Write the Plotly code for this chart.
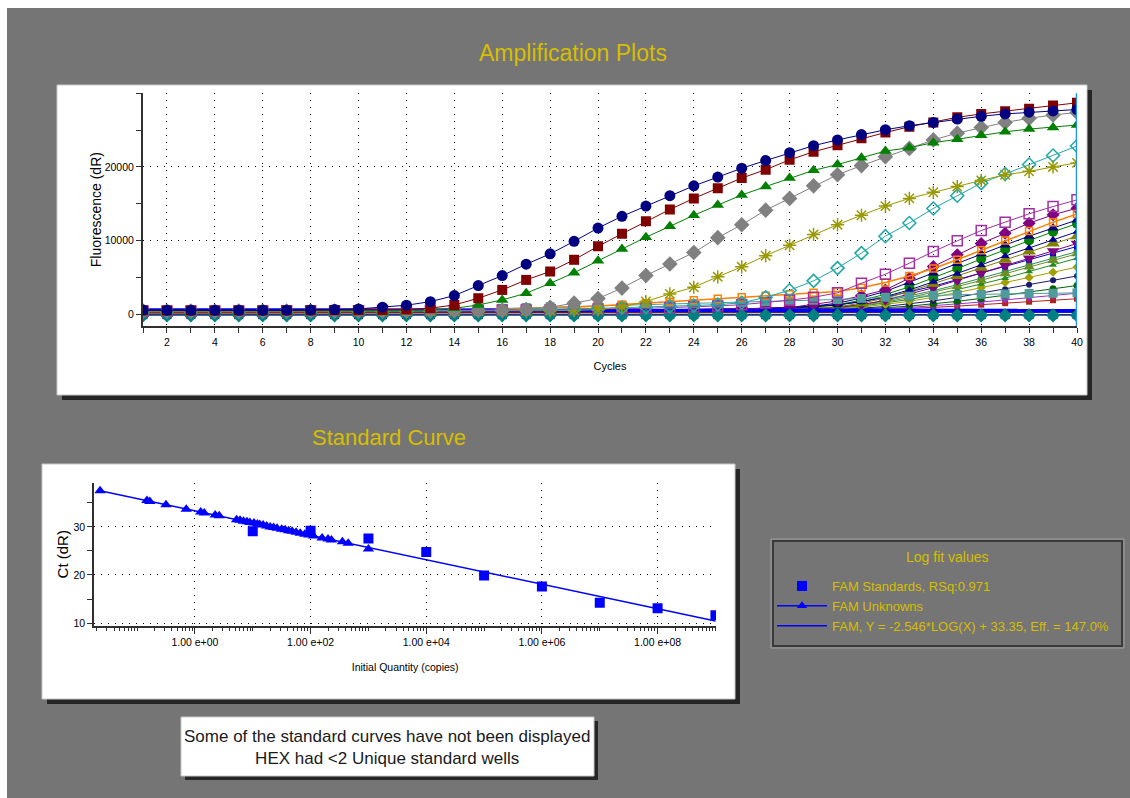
import numpy as np
import plotly.graph_objects as go

W, H = 1130, 798

# ---------------- amplification data (FAM, dR) ----------------
cycles = list(range(1, 41))

amp_navy = [560, 540, 530, 530, 540, 540, 550, 560, 640, 720,
            950, 1220, 1710, 2530, 3890, 5250, 6790, 8200, 9900, 11700,
            13300, 14680, 16100, 17430, 18620, 19820, 20870, 21930, 22890, 23670,
            24400, 25050, 25600, 26050, 26510, 26880, 27200, 27430, 27610, 27800]
amp_maroon = [520, 500, 500, 490, 500, 510, 510, 520, 530, 540,
              560, 650, 815, 1260, 2170, 3300, 4660, 5800, 7390, 9220,
              10920, 12610, 14220, 15730, 17110, 18490, 19630, 20960, 22060, 22940,
              23900, 24680, 25460, 26050, 26740, 27200, 27570, 27890, 28350, 28710]
amp_green = [470, 460, 450, 450, 460, 460, 470, 470, 480, 480,
             490, 500, 550, 800, 1260, 1940, 2850, 4190, 5640, 7250,
             8850, 10460, 11930, 13440, 14820, 16190, 17340, 18490, 19540, 20320,
             21240, 22160, 22610, 23300, 23760, 24310, 24770, 25140, 25370, 25690]
amp_gray = [430, 420, 420, 410, 420, 430, 430, 440, 440, 450,
            450, 450, 460, 470, 480, 520, 640, 950, 1500, 2130,
            3550, 5260, 6810, 8380, 10400, 12150, 14130, 15730, 17430, 18940,
            20180, 21380, 22520, 23670, 24590, 25370, 26050, 26600, 27060, 27400]
amp_olive = [400, 400, 390, 390, 400, 400, 410, 410, 420, 420,
             420, 430, 430, 440, 440, 450, 460, 480, 520, 620,
             980, 1730, 2760, 3660, 5080, 6440, 7950, 9360, 10830, 12160,
             13440, 14680, 15730, 16560, 17340, 18170, 18940, 19400, 20000, 20550]
amp_teal = [380, 380, 370, 380, 380, 390, 390, 400, 400, 410,
            420, 430, 450, 470, 500, 540, 590, 650, 720, 800,
            880, 970, 1060, 1170, 1300, 1550, 2300, 3250, 4530, 6260,
            8300, 10600, 12390, 14360, 16100, 17800, 19040, 20320, 21560, 22840]
amp_violet = [450, 450, 440, 440, 450, 450, 460, 460, 470, 480,
              490, 500, 510, 520, 540, 560, 580, 610, 650, 700,
              750, 800, 880, 1000, 1120, 1300, 1550, 1900, 2300, 2900,
              4210, 5430, 6930, 8510, 9960, 11360, 12500, 13630, 14620, 15530]
amp_orange = [600, 600, 590, 590, 600, 600, 610, 610, 620, 620,
              630, 640, 650, 660, 680, 700, 750, 820, 950, 1100,
              1300, 1500, 1700, 1900, 2100, 2300, 2500, 2700, 2900, 3100,
              3600, 4300, 5200, 6200, 7400, 8700, 10000, 11300, 12500, 13600]
amp_cadet = [500, 500, 490, 490, 500, 500, 510, 510, 520, 520,
             520, 530, 550, 600, 700, 800, 900, 1000, 1080, 1150,
             1220, 1300, 1380, 1450, 1520, 1600, 1700, 1800, 1900, 2000,
             2150, 2300, 2450, 2550, 2650, 2700, 2750, 2800, 2850, 2900]
amp_late1 = [420, 410, 410, 400, 410, 420, 420, 430, 430, 440,
             440, 450, 450, 460, 460, 470, 480, 490, 500, 520,
             540, 560, 590, 620, 660, 710, 780, 900, 1300, 1800,
             2500, 3300, 4900, 6480, 8060, 9620, 10980, 12360, 13500, 14400]
amp_late2 = [380, 380, 370, 370, 380, 380, 390, 390, 400, 400,
             410, 410, 420, 420, 430, 440, 450, 460, 470, 490,
             510, 530, 560, 590, 630, 680, 760, 880, 1100, 1500,
             2200, 3100, 4300, 5600, 6900, 8200, 9400, 10600, 11700, 12800]
amp_late3 = [360, 350, 350, 350, 360, 360, 370, 370, 380, 380,
             390, 390, 400, 400, 410, 420, 430, 440, 450, 470,
             490, 510, 530, 560, 600, 650, 720, 830, 1000, 1300,
             1900, 2700, 3700, 4900, 6200, 7500, 8800, 10000, 11200, 12300]
amp_late4 = [340, 340, 330, 330, 340, 340, 350, 350, 360, 360,
             370, 370, 380, 380, 390, 400, 410, 420, 430, 450,
             460, 480, 500, 530, 560, 600, 660, 740, 850, 1000,
             1500, 2200, 3100, 4100, 5200, 6300, 7400, 8500, 9600, 10600]
amp_late5 = [320, 320, 310, 310, 320, 320, 330, 330, 340, 340,
             350, 350, 360, 360, 370, 380, 390, 400, 410, 420,
             430, 450, 470, 490, 520, 550, 590, 650, 750, 900,
             1300, 1900, 2700, 3600, 4600, 5600, 6600, 7600, 8600, 9600]
amp_late6 = [450, 450, 440, 440, 450, 450, 460, 460, 470, 470,
             480, 480, 490, 490, 500, 510, 520, 530, 540, 560,
             580, 600, 630, 660, 700, 750, 820, 920, 1080, 1300,
             1700, 2300, 3000, 3800, 4700, 5600, 6500, 7400, 8300, 9200]
amp_late7 = [300, 300, 290, 290, 300, 300, 310, 310, 320, 320,
             330, 330, 340, 340, 350, 360, 370, 380, 390, 400,
             410, 430, 450, 470, 500, 530, 570, 630, 720, 850,
             1100, 1500, 2000, 2600, 3300, 4100, 4900, 5800, 6700, 7600]
amp_late8 = [280, 280, 270, 270, 280, 280, 290, 290, 300, 300,
             310, 310, 320, 320, 330, 340, 350, 360, 370, 380,
             390, 400, 420, 440, 460, 490, 520, 570, 640, 740,
             950, 1300, 1750, 2300, 2900, 3600, 4300, 5000, 5700, 6400]
amp_late9 = [260, 260, 250, 250, 260, 260, 270, 270, 280, 280,
             290, 290, 300, 300, 310, 320, 330, 340, 350, 360,
             370, 380, 390, 410, 430, 450, 480, 520, 580, 660,
             820, 1050, 1400, 1800, 2300, 2850, 3400, 4000, 4600, 5200]
amp_late10 = [240, 240, 230, 230, 240, 240, 250, 250, 260, 260,
              270, 270, 280, 280, 290, 300, 310, 320, 330, 340,
              350, 360, 370, 380, 400, 420, 440, 470, 520, 580,
              700, 880, 1100, 1400, 1750, 2150, 2550, 3000, 3450, 3900]
amp_late11 = [220, 220, 210, 210, 220, 220, 230, 230, 240, 240,
              250, 250, 260, 260, 270, 280, 290, 300, 310, 320,
              330, 340, 350, 360, 370, 390, 410, 440, 480, 530,
              620, 750, 920, 1130, 1380, 1650, 1950, 2250, 2550, 2850]
amp_late12 = [200, 200, 190, 190, 200, 200, 210, 210, 220, 220,
              230, 230, 240, 240, 250, 260, 270, 280, 290, 300,
              310, 320, 330, 340, 350, 360, 380, 400, 430, 470,
              540, 640, 770, 930, 1100, 1300, 1500, 1700, 1900, 2100]
amp_late13 = [350, 350, 340, 340, 350, 350, 360, 360, 370, 370,
              380, 380, 390, 390, 400, 410, 420, 430, 440, 450,
              460, 470, 490, 510, 530, 560, 600, 660, 760, 900,
              1200, 1650, 2250, 2950, 3750, 4600, 5500, 6400, 7300, 8200]
amp_late14 = [400, 400, 390, 390, 400, 400, 410, 410, 420, 420,
              430, 430, 440, 440, 450, 460, 470, 480, 490, 510,
              530, 550, 580, 610, 650, 700, 770, 870, 1020, 1250,
              1700, 2400, 3300, 4400, 5500, 6700, 7900, 9000, 10100, 11200]
amp_late15 = [330, 330, 320, 320, 330, 330, 340, 340, 350, 350,
              360, 360, 370, 370, 380, 390, 400, 410, 420, 440,
              450, 470, 490, 510, 540, 580, 630, 700, 800, 960,
              1300, 1800, 2450, 3200, 4000, 4900, 5800, 6700, 7600, 8500]
amp_flat_blue = [540, 540, 530, 530, 530, 530, 520, 520, 520, 520,
                 520, 520, 510, 510, 510, 510, 510, 510, 500, 500,
                 500, 500, 500, 500, 500, 500, 490, 490, 490, 490,
                 490, 490, 490, 490, 490, 480, 480, 480, 480, 480]
amp_flat_teal = [-150, -150, -150, -140, -150, -150, -150, -140, -150, -150,
                 -150, -150, -140, -150, -150, -150, -150, -140, -150, -150,
                 -150, -150, -150, -140, -150, -150, -150, -150, -140, -150,
                 -150, -150, -150, -150, -140, -150, -150, -150, -150, -150]
amp_flat_navy = [-60, -60, -50, -60, -60, -60, -50, -60, -60, -60,
                 -60, -50, -60, -60, -60, -60, -50, -60, -60, -60,
                 -60, -60, -50, -60, -60, -60, -60, -50, -60, -60,
                 -60, -60, -60, -50, -60, -60, -60, -60, -60, -50]
amp_flat_purple = [-90, -90, -80, -90, -90, -90, -90, -80, -90, -90,
                   -90, -90, -80, -90, -90, -90, -90, -90, -80, -90,
                   -90, -90, -90, -80, -90, -90, -90, -90, -90, -80,
                   -90, -90, -90, -90, -80, -90, -90, -90, -90, -90]
amp_flat_green = [220, 220, 210, 210, 220, 220, 220, 210, 220, 220,
                  220, 230, 220, 220, 230, 230, 230, 230, 240, 240,
                  240, 240, 250, 250, 250, 260, 260, 260, 270, 270,
                  270, 280, 280, 290, 290, 300, 300, 310, 310, 320]
amp_flat_maroon = [160, 160, 150, 150, 160, 160, 160, 150, 160, 160,
                   160, 170, 160, 160, 170, 170, 170, 170, 180, 180,
                   180, 180, 190, 190, 190, 200, 200, 200, 210, 210,
                   210, 220, 220, 230, 230, 240, 240, 250, 250, 260]
amp_flat_orange = [90, 90, 80, 80, 90, 90, 90, 80, 90, 90,
                   90, 100, 90, 90, 100, 100, 100, 100, 110, 110,
                   110, 120, 120, 130, 130, 140, 140, 150, 160, 170,
                   180, 190, 200, 210, 220, 240, 250, 260, 280, 300]

amp_ticks = [0, 10000, 20000]

# ---------------- standard curve data ----------------
std_quantity = [10, 100, 1000, 1e4, 1e5, 1e6, 1e7, 1e8, 1e9]
std_ct = [29.1, 29.2, 27.6, 24.8, 19.9, 17.6, 14.2, 13.1, 11.6]

unk_quantity = [0.0229, 0.148, 0.166, 0.316, 0.708, 1.26, 1.45, 2.24, 2.63, 5.25,
                6.03, 6.92, 7.94, 8.91, 10.5, 12.0, 13.2, 15.1, 17.4, 20.0,
                22.9, 26.3, 31.6, 36.3, 41.7, 47.9, 56.2, 66.1, 79.4, 93.3,
                112, 158, 200, 229, 355, 447, 1000]
unk_ct = [37.5, 35.5, 35.3, 34.6, 33.7, 33.1, 32.9, 32.5, 32.3, 31.5,
          31.4, 31.2, 31.1, 30.9, 30.8, 30.6, 30.5, 30.4, 30.2, 30.0,
          29.9, 29.7, 29.5, 29.4, 29.2, 29.1, 28.9, 28.7, 28.5, 28.3,
          28.1, 27.7, 27.5, 27.3, 26.9, 26.6, 25.4]

fit_slope = -2.546
fit_intercept = 33.35
fit_rsq = 0.971

decade_labels = ["1.00 e+00", "1.00 e+02", "1.00 e+04", "1.00 e+06", "1.00 e+08"]
decade_values = [1, 1e2, 1e4, 1e6, 1e8]
ct_ticks = [10, 20, 30]

# ---------------- styling ----------------
FONT = "Liberation Sans, Arial, sans-serif"
GOLD = "#D6BE00"
BG = "#757575"
DOT = "1px,6px"

amp_styles = [
    # (values, colour, symbol, marker size, line width)
    (amp_flat_orange, "#FF8C00", "square", 6, 1),
    (amp_flat_maroon, "#B22222", "square", 6, 1),
    (amp_flat_green, "#008000", "triangle-up", 7, 1),
    (amp_late12, "#B22222", "square", 6, 1),
    (amp_late11, "#9932CC", "triangle-down", 8, 1),
    (amp_late10, "#006400", "circle", 7, 1),
    (amp_late9, "#191970", "circle", 6, 1),
    (amp_late8, "#A0A000", "diamond", 7, 1),
    (amp_late7, "#228B22", "triangle-up", 7, 1),
    (amp_late15, "#2E8B57", "circle", 7, 1),
    (amp_late13, "#6B8E23", "triangle-up", 10, 1),
    (amp_late6, "#0000CD", "square", 6, 1),
    (amp_late5, "#800080", "triangle-down", 11, 1),
    (amp_late4, "#808000", "triangle-up", 12, 1),
    (amp_late3, "#008000", "circle", 10, 1),
    (amp_late14, "#00008B", "triangle-up", 8, 1),
    (amp_late2, "#000080", "triangle-up", 10, 1),
    (amp_late1, "#800080", "diamond", 10, 1),
    (amp_cadet, "#4F9A9A", "square", 9, 1),
    (amp_orange, "#FF8000", "square-open", 7, 1.5),
    (amp_flat_blue, "#0000FF", "line-ew", 4, 4),
    (amp_flat_navy, "#000080", "square", 9, 1),
    (amp_flat_purple, "#800080", "circle", 8, 1),
    (amp_flat_teal, "#008080", "diamond", 11, 1),
    (amp_violet, "#A030A0", "square-open", 10, 1),
    (amp_teal, "#20A8A8", "diamond-open", 10, 1),
    (amp_olive, "#999900", "asterisk-open", 11, 1),
    (amp_gray, "#808080", "diamond", 12, 1),
    (amp_green, "#008000", "triangle-up", 11, 1),
    (amp_maroon, "#800000", "square", 10, 1),
    (amp_navy, "#000080", "circle", 11, 1),
]


def px(x):
    return x / W


def py(y):
    return 1 - y / H


fig = go.Figure()

for vals, col, sym, size, lw in amp_styles:
    marker = dict(color=col, size=size, symbol=sym)
    if sym.endswith("-open"):
        marker["line"] = dict(color=col, width=1.5)
    fig.add_trace(go.Scatter(
        x=cycles, y=vals, mode="lines+markers",
        line=dict(color=col, width=lw), marker=marker,
        showlegend=False, xaxis="x", yaxis="y", hoverinfo="skip"))

# standard curve: fitted line across the quantity span
all_q = np.array(std_quantity + unk_quantity, dtype=float)
fit_x = np.array([all_q.min(), all_q.max()])
fit_y = fit_slope * np.log10(fit_x) + fit_intercept
efficiency = (10 ** (-1 / fit_slope) - 1) * 100

fig.add_trace(go.Scatter(
    x=std_quantity, y=std_ct, mode="markers",
    marker=dict(color="#0000FF", symbol="square", size=10),
    name=f"FAM Standards, RSq:{fit_rsq:.3f}", xaxis="x2", yaxis="y2"))
fig.add_trace(go.Scatter(
    x=unk_quantity, y=unk_ct, mode="markers",
    marker=dict(color="#0000FF", symbol="triangle-up", size=10),
    showlegend=False, xaxis="x2", yaxis="y2"))
fig.add_trace(go.Scatter(
    x=[None], y=[None], mode="lines+markers",
    line=dict(color="#0000FF", width=1.5),
    marker=dict(color="#0000FF", symbol="triangle-up", size=9),
    name="FAM Unknowns", xaxis="x2", yaxis="y2"))
fig.add_trace(go.Scatter(
    x=fit_x, y=fit_y, mode="lines",
    line=dict(color="#0000FF", width=1.5),
    name=f"FAM, Y = {fit_slope:.3f}*LOG(X) + {fit_intercept:.2f}, Eff. = {efficiency:.1f}%",
    xaxis="x2", yaxis="y2"))

tickfont = dict(family=FONT, size=10.5, color="#000000")
axis_common = dict(showline=True, linecolor="#303030", linewidth=2,
                   ticks="outside", tickcolor="#303030", tickwidth=1,
                   zeroline=False, gridcolor="#000000", griddash=DOT,
                   gridwidth=1, tickfont=tickfont)

decade_minor = [m * 10.0 ** e for e in range(-2, 10) for m in range(1, 10)]
odd_decades = [10.0 ** e for e in range(-1, 10, 2)]

fig.update_layout(
    width=W, height=H,
    margin=dict(l=0, r=0, t=0, b=0, autoexpand=False),
    paper_bgcolor="#FFFFFF",
    plot_bgcolor="rgba(0,0,0,0)",
    font=dict(family=FONT),
    xaxis=dict(axis_common, domain=[px(143), px(1077)], range=[1, 40],
               anchor="y", tick0=2, dtick=2, ticklen=5, showgrid=True,
               minor=dict(tick0=1, dtick=1, ticks="outside", ticklen=5,
                          tickcolor="#303030", showgrid=False),
               title=dict(text="Cycles", standoff=16,
                          font=dict(family=FONT, size=11, color="#000"))),
    yaxis=dict(axis_common, domain=[py(326), py(93.3)], range=[-1600, 30000],
               anchor="x", tickmode="array", tickvals=amp_ticks, tickformat="d",
               ticklen=5, showgrid=True,
               minor=dict(tick0=0, dtick=5000, ticks="outside", ticklen=5,
                          tickcolor="#303030", showgrid=False),
               title=dict(text="Fluorescence (dR)", standoff=0,
                          font=dict(family=FONT, size=14, color="#000"))),
    xaxis2=dict(axis_common, type="log", domain=[px(94.3), px(716)],
                range=[-1.74, 9.01], anchor="y2",
                tickmode="array", tickvals=decade_values, ticktext=decade_labels,
                ticklen=6, showgrid=True,
                minor=dict(tickmode="array", tickvals=decade_minor,
                           ticks="outside", ticklen=3, tickcolor="#303030",
                           showgrid=False),
                title=dict(text="Initial Quantity (copies)", standoff=16,
                           font=dict(family=FONT, size=10.5, color="#000"))),
    xaxis3=dict(type="log", overlaying="x2", anchor="y2", range=[-1.74, 9.01],
                tickmode="array", tickvals=odd_decades, ticks="outside",
                ticklen=6, tickcolor="#303030", showticklabels=False,
                showgrid=False, showline=False, zeroline=False, side="bottom"),
    yaxis2=dict(axis_common, domain=[py(625.7), py(482.7)], range=[9.45, 39.2],
                anchor="x2", tickmode="array", tickvals=ct_ticks, ticklen=5,
                showgrid=True,
                minor=dict(tick0=0, dtick=5, ticks="outside", ticklen=5,
                           tickcolor="#303030", showgrid=False),
                title=dict(text="Ct (dR)", standoff=1,
                           font=dict(family=FONT, size=15, color="#000"))),
    legend=dict(x=px(772), y=py(571), xanchor="left", yanchor="top",
                bgcolor="rgba(0,0,0,0)", borderwidth=0,
                font=dict(family=FONT, size=13, color=GOLD),
                itemwidth=50, tracegroupgap=0),
)


def rect(x0, y0, x1, y1, fill=None, line=None, lw=0, layer="below"):
    fig.add_shape(type="rect", xref="paper", yref="paper",
                  x0=px(x0), x1=px(x1), y0=py(y1), y1=py(y0),
                  fillcolor=fill if fill else "rgba(0,0,0,0)",
                  line=dict(color=line if line else "rgba(0,0,0,0)", width=lw),
                  layer=layer)


# page background
rect(7, 8, W, H, fill=BG)
# amplification panel with drop shadow
rect(62, 90, 1092, 400, fill="#262626")
rect(57, 85, 1087, 395, fill="#FFFFFF", line="#C8C8C8", lw=1)
# standard curve panel with drop shadow
rect(47, 469, 740, 704, fill="#262626")
rect(42, 464, 735, 699, fill="#FFFFFF", line="#C8C8C8", lw=1)
# message box
rect(185, 721, 598, 780, fill="#262626")
rect(181, 717, 594, 776, fill="#FFFFFF", line="#C8C8C8", lw=1)
# log fit legend frame
rect(771, 539, 1124, 648, line="#A0A0A0", lw=1)
rect(773, 541, 1122, 646, line="#3A3A3A", lw=2)

# cursor line at the last cycle
fig.add_shape(type="line", xref="x", yref="y domain", x0=cycles[-1], x1=cycles[-1],
              y0=0, y1=1, line=dict(color="#1E90FF", width=2.5), layer="above")


def label(text, x, y, size, color):
    fig.add_annotation(text=text, x=px(x), y=py(y), xref="paper", yref="paper",
                       xanchor="center", yanchor="middle", showarrow=False,
                       font=dict(family=FONT, size=size, color=color))


label("Amplification Plots", 573, 53, 23, GOLD)
label("Standard Curve", 389, 437, 22, GOLD)
label("Log fit values", 947, 557, 14, GOLD)
label("Some of the standard curves have not been displayed<br>"
      "HEX had &lt;2 Unique standard wells", 387, 747, 17, "#1A1A1A")

fig.write_html("out.html")
